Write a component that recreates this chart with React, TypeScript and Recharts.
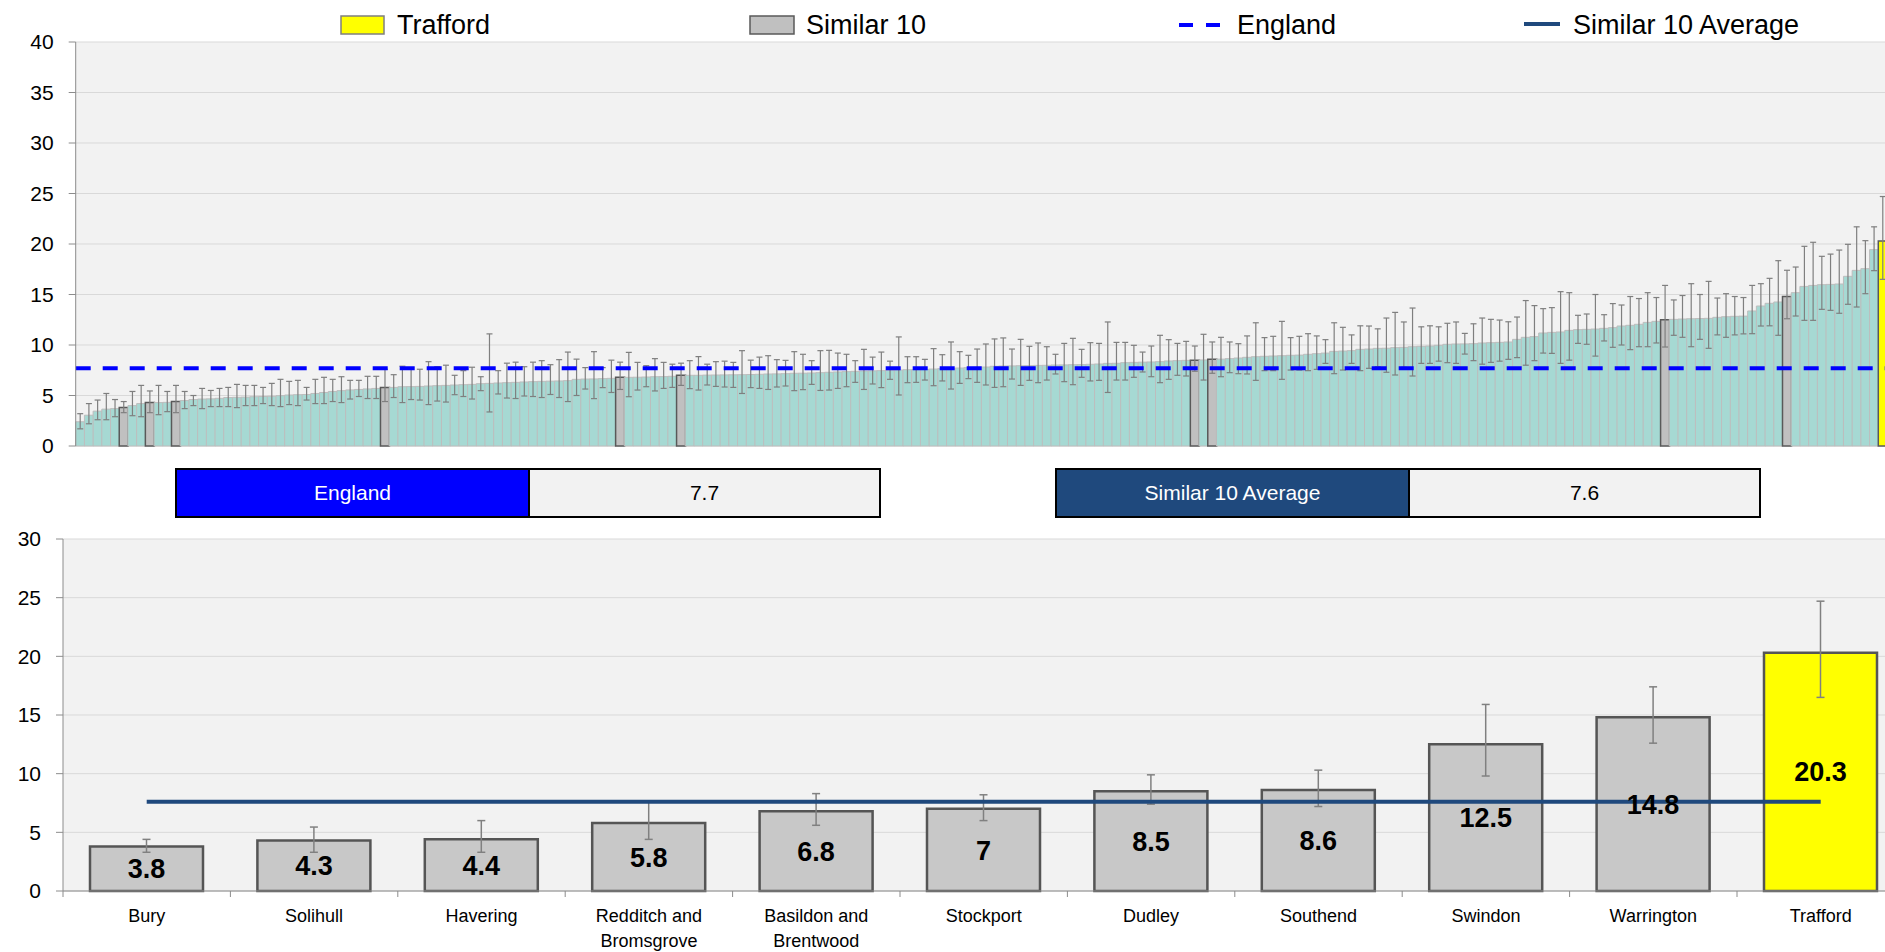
import React from 'react';
import {
  ComposedChart,
  Bar,
  Cell,
  XAxis,
  YAxis,
  CartesianGrid,
  ErrorBar,
  ReferenceLine,
  Line,
  LabelList,
} from 'recharts';

// ---------------- DATA ----------------
// All areas, sorted ascending (top chart)
const ALL_VALUES = [
  2.4, 3.05, 3.45, 3.65, 3.7, 3.8, 4.0, 4.2, 4.3, 4.3,
  4.32, 4.4, 4.5, 4.6, 4.65, 4.67, 4.72, 4.8, 4.82, 4.84,
  4.88, 4.9, 4.92, 4.98, 5.05, 5.08, 5.1, 5.2, 5.3, 5.4,
  5.48, 5.55, 5.6, 5.65, 5.7, 5.8, 5.8, 5.87, 5.88, 5.9,
  5.94, 5.97, 6.0, 6.04, 6.07, 6.1, 6.17, 6.2, 6.24, 6.27,
  6.3, 6.34, 6.37, 6.4, 6.42, 6.44, 6.47, 6.6, 6.63, 6.64,
  6.67, 6.7, 6.8, 6.8, 6.81, 6.83, 6.86, 6.87, 6.9, 7.0,
  7.0, 7.0, 7.02, 7.03, 7.04, 7.05, 7.06, 7.08, 7.1, 7.13,
  7.14, 7.16, 7.2, 7.21, 7.23, 7.26, 7.3, 7.33, 7.36, 7.39,
  7.43, 7.44, 7.46, 7.49, 7.52, 7.55, 7.56, 7.59, 7.62, 7.66,
  7.69, 7.72, 7.76, 7.79, 7.82, 7.89, 7.92, 7.93, 7.95, 7.96,
  7.98, 7.99, 8.02, 8.03, 8.05, 8.06, 8.09, 8.12, 8.18, 8.19,
  8.25, 8.28, 8.3, 8.32, 8.35, 8.42, 8.45, 8.48, 8.5, 8.52,
  8.6, 8.6, 8.65, 8.71, 8.78, 8.84, 8.88, 8.91, 8.94, 8.98,
  9.0, 9.08, 9.14, 9.2, 9.37, 9.4, 9.44, 9.57, 9.6, 9.67,
  9.68, 9.74, 9.77, 9.83, 9.87, 9.9, 9.97, 10.07, 10.1, 10.11,
  10.13, 10.2, 10.23, 10.26, 10.3, 10.56, 10.76, 10.83, 11.19, 11.25,
  11.29, 11.45, 11.52, 11.55, 11.58, 11.65, 11.72, 11.88, 11.95, 12.05,
  12.24, 12.34, 12.5, 12.54, 12.57, 12.6, 12.62, 12.64, 12.74, 12.8,
  12.84, 12.86, 13.37, 13.86, 14.13, 14.26, 14.8, 15.18, 15.8, 15.9,
  15.97, 16.0, 16.04, 16.8, 17.39, 17.56, 19.44, 20.3,
];

const ALL_LOWER = [
  1.7, 2.2, 2.6, 2.6, 2.9, 3.3, 3.0, 2.9, 3.3, 3.1,
  3.4, 3.3, 3.7, 4.0, 3.7, 3.9, 3.9, 3.9, 3.8, 4.0,
  4.0, 4.2, 4.0, 3.9, 4.1, 4.0, 4.55, 4.2, 4.2, 4.4,
  4.3, 4.65, 4.9, 4.7, 4.7, 4.4, 4.8, 4.3, 4.6, 4.55,
  4.1, 4.45, 4.35, 5.08, 4.9, 4.65, 5.48, 3.37, 5.15, 4.75,
  4.7, 4.95, 4.9, 4.8, 5.1, 4.8, 4.4, 5.0, 5.64, 4.69,
  5.78, 5.3, 5.6, 4.88, 5.54, 5.87, 5.45, 5.7, 5.8, 6.0,
  5.68, 5.54, 6.04, 5.9, 5.84, 5.8, 5.2, 5.78, 5.7, 5.6,
  5.84, 5.94, 5.48, 5.58, 6.1, 5.5, 5.54, 5.7, 5.87, 6.3,
  5.6, 6.14, 5.78, 6.6, 5.05, 6.27, 6.3, 6.53, 5.97, 6.44,
  5.64, 6.2, 6.67, 6.3, 6.04, 5.8, 5.87, 6.63, 6.0, 6.5,
  6.27, 6.53, 7.13, 6.37, 6.07, 6.8, 6.44, 6.5, 5.3, 6.53,
  6.53, 6.8, 7.33, 6.86, 6.27, 6.6, 7.0, 6.93, 7.4, 6.53,
  7.2, 6.86, 7.26, 7.16, 7.13, 6.5, 7.46, 7.46, 6.6, 7.52,
  7.52, 7.46, 7.59, 8.18, 7.16, 7.52, 8.18, 7.46, 7.69, 7.85,
  7.3, 7.03, 7.79, 6.93, 8.18, 8.18, 8.4, 8.25, 8.18, 9.1,
  8.45, 8.1, 8.28, 8.4, 8.58, 8.75, 8.0, 8.45, 9.2, 9.17,
  8.18, 8.5, 10.16, 10.07, 8.9, 10.4, 9.77, 10.0, 9.54, 9.83,
  9.83, 10.2, 9.8, 10.96, 10.76, 9.83, 10.56, 9.67, 11.0, 10.76,
  11.0, 11.1, 11.12, 11.88, 11.9, 10.96, 12.6, 12.87, 12.44, 12.44,
  13.53, 13.43, 13.14, 14.03, 13.76, 15.08, 17.36, 16.5,
];

const ALL_UPPER = [
  3.2, 4.2, 4.55, 5.2, 4.6, 4.4, 5.4, 6.0, 5.45, 6.0,
  5.4, 6.0, 5.4, 5.0, 5.7, 5.5, 5.7, 5.8, 6.1, 6.0,
  6.0, 5.8, 6.2, 6.6, 6.4, 6.5, 5.8, 6.6, 6.8, 6.6,
  6.86, 6.5, 6.5, 6.9, 6.9, 7.6, 7.06, 7.9, 7.76, 7.6,
  8.35, 7.85, 8.0, 7.0, 7.46, 7.8, 6.86, 11.1, 7.46, 8.2,
  8.3, 7.85, 8.3, 8.45, 8.05, 8.55, 9.3, 8.6, 7.76, 9.34,
  7.76, 8.5, 8.3, 9.27, 8.28, 7.95, 8.65, 8.28, 8.1, 8.2,
  8.45, 8.85, 8.1, 8.35, 8.4, 8.28, 9.44, 8.5, 8.8, 8.94,
  8.55, 8.48, 9.34, 9.08, 8.45, 9.44, 9.47, 9.2, 9.08, 8.45,
  9.57, 8.8, 9.3, 8.4, 10.8, 8.84, 8.84, 8.58, 9.64, 9.04,
  10.3, 9.34, 8.98, 9.6, 10.1, 10.6, 10.7, 9.6, 10.56, 9.87,
  10.2, 9.83, 9.08, 10.16, 10.66, 9.57, 10.23, 10.16, 12.28, 10.26,
  10.26, 9.97, 9.3, 9.9, 10.96, 10.53, 10.16, 10.36, 9.9, 11.06,
  10.3, 10.76, 10.3, 10.13, 10.9, 12.2, 10.73, 10.86, 12.34, 10.73,
  10.86, 11.12, 10.9, 10.53, 12.2, 11.75, 11.0, 11.9, 11.88, 11.6,
  12.67, 13.23, 12.28, 13.66, 11.8, 11.9, 11.8, 12.15, 12.28, 11.15,
  12.1, 12.67, 12.54, 12.47, 12.3, 12.77, 14.4, 13.9, 13.6, 13.7,
  15.28, 15.18, 12.94, 13.07, 15.0, 13.0, 14.1, 13.96, 14.8, 14.6,
  15.18, 14.7, 15.9, 14.46, 14.9, 16.07, 15.0, 16.3, 14.65, 15.08,
  14.8, 14.7, 15.9, 16.07, 16.6, 18.35, 17.4, 17.72, 19.77, 20.17,
  18.78, 19.0, 19.4, 19.97, 21.7, 20.33, 21.7, 24.7,
];

// positions of the Similar 10 areas and of Trafford within the sorted list
const SIMILAR_INDEX = [5, 8, 11, 35, 62, 69, 128, 130, 182, 196];
const TRAFFORD_INDEX = 207;

// bottom chart categories (Similar 10 + Trafford)
const AREAS = [
  'Bury',
  'Solihull',
  'Havering',
  'Redditch and\nBromsgrove',
  'Basildon and\nBrentwood',
  'Stockport',
  'Dudley',
  'Southend',
  'Swindon',
  'Warrington',
  'Trafford',
];

const ENGLAND = 7.7;
const SIMILAR_AVG = 7.6;

const TOP_TICKS = [0, 5, 10, 15, 20, 25, 30, 35, 40];
const BOTTOM_TICKS = [0, 5, 10, 15, 20, 25, 30];

// ---------------- STYLE / LAYOUT ----------------
const FONT = "'Liberation Sans', Arial, sans-serif";
const TEAL = '#a6d9d3';
const GREY_BAR = '#c0c0c0';
const YELLOW = '#ffff00';
const DARK_BLUE = '#1f497d';
const AXIS_GREY = '#8c8c8c';

const TOP_W = 1900;
const TOP_H = 470;
const TOP_Y_W = 75.7;
const TOP_PLOT_W = 1811.3;

const BOT_W = 1930;
const BOT_H = 432;
const BOT_Y_W = 63;
const BOT_PLOT_W = 1841.4;
const BAND = BOT_PLOT_W / AREAS.length;

function AreaTick(props: any) {
  const { x, y, payload, index } = props;
  const lines = String(payload.value).split('\n');
  const left = x - BAND / 2;
  return (
    <g>
      <line x1={left} x2={left} y1={y} y2={y + 6} stroke={AXIS_GREY} strokeWidth={1} />
      {index === AREAS.length - 1 ? (
        <line x1={x + BAND / 2} x2={x + BAND / 2} y1={y} y2={y + 6} stroke={AXIS_GREY} strokeWidth={1} />
      ) : null}
      <text x={x} y={y} textAnchor="middle" fontSize={18} fill="#000" fontFamily={FONT}>
        {lines.map((l, i) => (
          <tspan key={i} x={x} dy={i === 0 ? 31 : 25}>
            {l}
          </tspan>
        ))}
      </text>
    </g>
  );
}

function InfoBox({ left, label, value, color }: { left: number; label: string; value: string; color: string }) {
  return (
    <div
      style={{
        position: 'absolute',
        left,
        top: 468,
        width: 706,
        height: 50,
        border: '2px solid #000',
        boxSizing: 'border-box',
        display: 'flex',
        fontSize: 21,
        fontFamily: FONT,
      }}
    >
      <div
        style={{
          width: 351,
          background: color,
          color: '#fff',
          display: 'flex',
          alignItems: 'center',
          justifyContent: 'center',
        }}
      >
        {label}
      </div>
      <div
        style={{
          flex: 1,
          background: '#f2f2f2',
          color: '#000',
          borderLeft: '2px solid #000',
          display: 'flex',
          alignItems: 'center',
          justifyContent: 'center',
        }}
      >
        {value}
      </div>
    </div>
  );
}

export default function App() {
  const topRows = ALL_VALUES.map((v, i) => ({
    idx: i,
    value: v,
    err: [v - ALL_LOWER[i], ALL_UPPER[i] - v],
    kind: i === TRAFFORD_INDEX ? 'trafford' : SIMILAR_INDEX.includes(i) ? 'similar' : 'other',
  }));

  const bottomIdx = [...SIMILAR_INDEX, TRAFFORD_INDEX];
  const bottomRows = bottomIdx.map((k, i) => ({
    name: AREAS[i],
    value: ALL_VALUES[k],
    err: [ALL_VALUES[k] - ALL_LOWER[k], ALL_UPPER[k] - ALL_VALUES[k]],
    avg: SIMILAR_AVG,
    kind: k === TRAFFORD_INDEX ? 'trafford' : 'similar',
  }));

  return (
    <div
      style={{
        position: 'absolute',
        left: 0,
        top: 0,
        width: 1885,
        height: 952,
        overflow: 'hidden',
        background: '#fff',
        fontFamily: FONT,
      }}
    >
      {/* TOP CHART */}
      <div style={{ position: 'absolute', left: 0, top: 0 }}>
        <ComposedChart
          width={TOP_W}
          height={TOP_H}
          data={topRows}
          margin={{ top: 42, right: TOP_W - TOP_Y_W - TOP_PLOT_W, bottom: TOP_H - 446, left: 0 }}
          barCategoryGap={0}
          barGap={0}
        >
          <CartesianGrid vertical={false} stroke="#d9d9d9" fill="#f2f2f2" />
          <XAxis dataKey="idx" hide />
          <YAxis
            domain={[0, 40]}
            ticks={TOP_TICKS}
            interval={0}
            width={TOP_Y_W}
            tick={{ fontSize: 21, fill: '#000', fontFamily: FONT }}
            tickSize={7}
            tickMargin={15}
            axisLine={{ stroke: AXIS_GREY }}
            tickLine={{ stroke: AXIS_GREY }}
          />
          <Bar dataKey="value" isAnimationActive={false}>
            {topRows.map((r, i) => (
              <Cell
                key={i}
                fill={r.kind === 'trafford' ? YELLOW : r.kind === 'similar' ? GREY_BAR : TEAL}
                stroke={r.kind === 'other' ? '#bdbdbd' : '#595959'}
                strokeWidth={r.kind === 'other' ? 1 : 1.5}
              />
            ))}
            <ErrorBar dataKey="err" width={3} stroke="#7f7f7f" strokeWidth={1.2} isAnimationActive={false} />
          </Bar>
          <ReferenceLine y={ENGLAND} stroke="#0000ff" strokeWidth={4} strokeDasharray="15 12" />
        </ComposedChart>
      </div>

      {/* LEGEND */}
      <svg
        width={1885}
        height={42}
        style={{ position: 'absolute', left: 0, top: 0 }}
        fontFamily={FONT}
      >
        <rect x={341} y={16} width={43} height={18} fill={YELLOW} stroke="#7f7f7f" strokeWidth={1.5} />
        <text x={397} y={34} fontSize={27} fill="#000">Trafford</text>
        <rect x={750} y={16} width={44} height={18} fill={GREY_BAR} stroke="#595959" strokeWidth={1.5} />
        <text x={806} y={34} fontSize={27} fill="#000">Similar 10</text>
        <line x1={1179} x2={1193} y1={25} y2={25} stroke="#0000ff" strokeWidth={4} />
        <line x1={1206} x2={1220} y1={25} y2={25} stroke="#0000ff" strokeWidth={4} />
        <text x={1237} y={34} fontSize={27} fill="#000">England</text>
        <line x1={1524} x2={1560} y1={24} y2={24} stroke={DARK_BLUE} strokeWidth={4} />
        <text x={1573} y={34} fontSize={27} fill="#000">Similar 10 Average</text>
      </svg>

      {/* INFO BOXES */}
      <InfoBox left={175} label="England" value={String(ENGLAND)} color="#0000ff" />
      <InfoBox left={1055} label="Similar 10 Average" value={String(SIMILAR_AVG)} color={DARK_BLUE} />

      {/* BOTTOM CHART */}
      <div style={{ position: 'absolute', left: 0, top: 520 }}>
        <ComposedChart
          width={BOT_W}
          height={BOT_H}
          data={bottomRows}
          margin={{ top: 19, right: BOT_W - BOT_Y_W - BOT_PLOT_W, bottom: 0, left: 0 }}
        >
          <CartesianGrid vertical={false} stroke="#d9d9d9" fill="#f2f2f2" />
          <XAxis
            dataKey="name"
            height={61}
            interval={0}
            tickSize={0}
            tickMargin={0}
            tickLine={false}
            axisLine={{ stroke: AXIS_GREY }}
            tick={(p: any) => <AreaTick {...p} />}
          />
          <YAxis
            domain={[0, 30]}
            ticks={BOTTOM_TICKS}
            interval={0}
            width={BOT_Y_W}
            tick={{ fontSize: 21, fill: '#000', fontFamily: FONT }}
            tickSize={7}
            tickMargin={15}
            axisLine={{ stroke: AXIS_GREY }}
            tickLine={{ stroke: AXIS_GREY }}
          />
          <Bar dataKey="value" barSize={113} isAnimationActive={false}>
            {bottomRows.map((r, i) => (
              <Cell
                key={i}
                fill={r.kind === 'trafford' ? YELLOW : '#c8c8c8'}
                stroke="#555555"
                strokeWidth={2.5}
              />
            ))}
            <ErrorBar dataKey="err" width={4} stroke="#808080" strokeWidth={1.5} isAnimationActive={false} />
            <LabelList
              dataKey="value"
              position="center"
              fontSize={27}
              fontWeight="bold"
              fill="#000"
              fontFamily={FONT}
            />
          </Bar>
          <Line
            dataKey="avg"
            stroke={DARK_BLUE}
            strokeWidth={4}
            dot={false}
            activeDot={false}
            isAnimationActive={false}
          />
        </ComposedChart>
      </div>
    </div>
  );
}
